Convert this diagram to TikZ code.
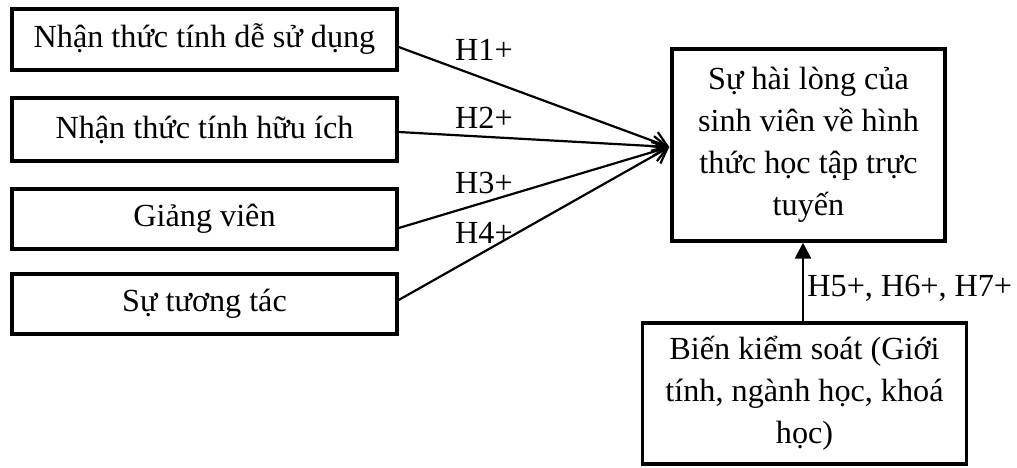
\documentclass[tikz,border=0pt]{standalone}
\usepackage{fontspec}
\setmainfont{Liberation Serif}
\usetikzlibrary{arrows.meta,calc}
\begin{document}
\begin{tikzpicture}[x=0.5pt,y=-0.5pt,
  every node/.style={font=\fontsize{16.1}{21}\selectfont, inner sep=0pt},
  leftbox/.style={draw, line width=1.7pt, minimum width=192.5pt, align=center},
  bigbox/.style={draw, line width=1.7pt, align=center},
  conv/.style={-{Straight Barb[length=7pt,width=10pt,line width=1.1pt]}, line width=1.1pt},
  up/.style={-{Triangle[length=8pt,width=8pt]}, line width=1.4pt},
  lab/.style={}
]
\useasboundingbox (0,0) rectangle (1017,467);
\node[leftbox, minimum height=30.5pt] (b1) at (204.5,39.5) {Nhận thức tính dễ sử dụng};
\node[leftbox, minimum height=31.5pt] (b2) at (204.5,129.5) {Nhận thức tính hữu ích};
\node[leftbox, minimum height=30pt] (b3) at (204.5,219) {Giảng viên};
\node[leftbox, minimum height=30pt] (b4) at (204.5,304) {Sự tương tác};
\node[bigbox, minimum width=136.5pt, minimum height=96pt] (c) at (808.5,145) {Sự hài lòng của\\sinh viên về hình\\thức học tập trực\\tuyến};
\node[bigbox, minimum width=162pt, minimum height=70.5pt] (d) at (804.5,393.5) {Biến kiểm soát (Giới\\tính, ngành học, khoá\\học)};
\coordinate (tip) at ($(c.west)+(-1,2)$);
\draw[conv] ($(b1.east)+(0,7.5)$) -- (tip);
\draw[conv] ($(b2.east)+(0,2.5)$) -- (tip);
\draw[conv] ($(b3.east)+(0,9)$) -- (tip);
\draw[conv] ($(b4.east)+(0,-4)$) -- (tip);
\node[lab] (h1) at (484,50) {H1+};
\node[lab] (h2) at (484,118) {H2+};
\node[lab] (h3) at (484,183) {H3+};
\node[lab] (h4) at (484,233) {H4+};
\draw[up] ($(d.north)+(-1.5,0)$) -- ($(c.south)+(-5.5,0)$);
\node[lab, anchor=west] (h5) at (807,288) {H5+, H6+, H7+};
\end{tikzpicture}
\end{document}
